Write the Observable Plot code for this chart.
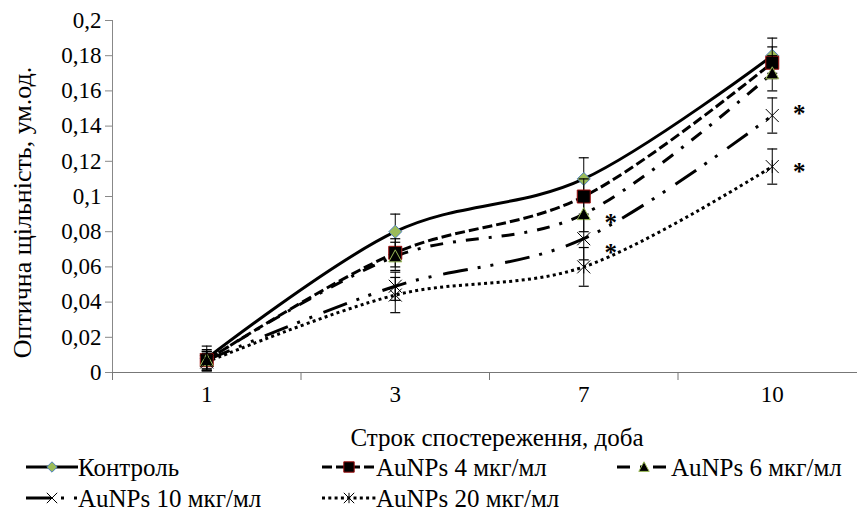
<!DOCTYPE html>
<html><head><meta charset="utf-8">
<script src="https://cdn.jsdelivr.net/npm/d3@7"></script>
<script src="https://cdn.jsdelivr.net/npm/@observablehq/plot@0.6"></script>
<style>
body{margin:0;background:#fff;font-family:"Liberation Serif","Tinos","Times New Roman","DejaVu Serif",serif;}
#chart svg{display:block;}
#legend{position:relative;height:63px;width:857px;}
.item{position:absolute;display:flex;align-items:center;font-size:25px;line-height:25px;white-space:nowrap;}
.item svg{display:block;}
</style></head><body>
<div id="chart"></div>
<div id="legend"></div>
<script>
// ---- data ----
const days = ["1", "3", "7", "10"];
const seriesNames = ["Контроль", "AuNPs 4 мкг/мл", "AuNPs 6 мкг/мл", "AuNPs 10 мкг/мл", "AuNPs 20 мкг/мл"];
const control    = [0.008, 0.080, 0.110, 0.180];
const controlErr = [0.007, 0.010, 0.012, 0.010];
const au4        = [0.007, 0.068, 0.100, 0.176];
const au4Err     = [0.006, 0.008, 0.010, 0.009];
const au6        = [0.007, 0.066, 0.090, 0.170];
const au6Err     = [0.005, 0.008, 0.010, 0.010];
const au10       = [0.007, 0.049, 0.076, 0.146];
const au10Err    = [0.005, 0.008, 0.012, 0.010];
const au20       = [0.006, 0.044, 0.060, 0.117];
const au20Err    = [0.005, 0.010, 0.011, 0.010];
const yTicks = [0, 0.02, 0.04, 0.06, 0.08, 0.1, 0.12, 0.14, 0.16, 0.18, 0.2];
// significance marks: [day, y]
const starDays = ["7", "7", "10", "10"];
const starY    = [0.088, 0.071, 0.150, 0.117];
const xTitle = "Строк спостереження, доба";
const yTitle = "Оптична щільність, ум.од.";

const FONT = "'Liberation Serif', Tinos, 'Times New Roman', 'DejaVu Serif', serif";

// ---- symbols ----
const R = s => Math.sqrt(s / Math.PI);
const symDiamond = {draw(c, s){const r=R(s); c.moveTo(0,-r); c.lineTo(r,0); c.lineTo(0,r); c.lineTo(-r,0); c.closePath();}};
const symSquare = {draw(c, s){const r=R(s); c.rect(-r,-r,2*r,2*r);}};
const symTriangle = {draw(c, s){const r=R(s); c.moveTo(0,-r); c.lineTo(r,r*0.85); c.lineTo(-r,r*0.85); c.closePath();}};
const symTimes = {draw(c, s){const r=R(s); c.moveTo(-r,-r); c.lineTo(r,r); c.moveTo(r,-r); c.lineTo(-r,r);}};
const symStar = {draw(c, s){const r=R(s); c.moveTo(-r,-r); c.lineTo(r,r); c.moveTo(r,-r); c.lineTo(-r,r); c.moveTo(0,-r); c.lineTo(0,r);}};
const symCap = {draw(c, s){const r=R(s); c.moveTo(-r,0); c.lineTo(r,0);}};

const styles = [
  {dash: null,              sym: symDiamond,  fill: "#9BBB59", stroke: "#4F81BD", sw: 1,   r: 6.5},
  {dash: "10,4",            sym: symSquare,   fill: "#000",    stroke: "#A01010", sw: 1,   r: 6.5},
  {dash: "13,10,3,10",      sym: symTriangle, fill: "#000",    stroke: "#9BBB59", sw: 1,   r: 6.5},
  {dash: "25,10,3,10,3,12", sym: symTimes,    fill: "none",    stroke: "#000",    sw: 1,   r: 6.5},
  {dash: "3,3.3",           sym: symStar,     fill: "none",    stroke: "#000",    sw: 1,   r: 6.5}
];

const values = [control, au4, au6, au10, au20];
const errors = [controlErr, au4Err, au6Err, au10Err, au20Err];
const xPos = d => days.indexOf(d) + 0.5;

const rows = [];
values.forEach((vals, s) => vals.forEach((v, i) => rows.push({
  series: s, day: days[i], x: xPos(days[i]), y: v, lo: v - errors[s][i], hi: v + errors[s][i]
})));
const stars = starDays.map((d, i) => ({x: xPos(d), y: starY[i]}));
const fmt = d => String(+d.toFixed(2)).replace(".", ",");

const marks = [];
marks.push(Plot.ruleY([0], {stroke: "#777", strokeWidth: 1}));
marks.push(Plot.ruleX([0], {stroke: "#888", strokeWidth: 1}));
marks.push(Plot.axisY({ticks: yTicks, tickSize: 7, tickPadding: 4, tickFormat: fmt, stroke: "#888", fill: "#000", fontSize: 23, label: null}));
marks.push(Plot.axisX({ticks: d3.range(days.length + 1), tickSize: 8, tickFormat: () => "", stroke: "#777", label: null}));
marks.push(Plot.axisX({ticks: days.map(xPos), tickSize: 0, tickPadding: 13, tickFormat: d => days[Math.floor(d)], fill: "#000", fontSize: 23, label: null}));
marks.push(Plot.text([xTitle], {frameAnchor: "bottom", dy: 65, dx: 12, fontSize: 25, lineAnchor: "middle"}));
marks.push(Plot.text([yTitle], {frameAnchor: "left", textAnchor: "middle", rotate: -90, dx: -90, dy: 16, fontSize: 26, lineAnchor: "middle"}));
styles.forEach((st, s) => {
  marks.push(Plot.line(rows.filter(r => r.series === s), {
    x: "x", y: "y", curve: "cardinal", stroke: "#000", strokeWidth: 3,
    strokeDasharray: st.dash, strokeLinecap: "butt"
  }));
});
styles.forEach((st, s) => {
  const data = rows.filter(r => r.series === s);
  marks.push(Plot.ruleX(data, {x: "x", y1: "lo", y2: "hi", stroke: "#000", strokeWidth: 1}));
  marks.push(Plot.dot(data, {x: "x", y: "lo", symbol: symCap, r: 5, stroke: "#000", strokeWidth: 1.2}));
  marks.push(Plot.dot(data, {x: "x", y: "hi", symbol: symCap, r: 5, stroke: "#000", strokeWidth: 1.2}));
  marks.push(Plot.dot(data, {x: "x", y: "y", symbol: st.sym, r: st.r, fill: st.fill, stroke: st.stroke, strokeWidth: st.sw}));
});
marks.push(Plot.text(stars, {x: "x", y: "y", text: () => "*", dx: 27, dy: 5, fontSize: 25, fontWeight: "bold", lineAnchor: "middle"}));

const chart = Plot.plot({
  width: 857, height: 452,
  marginLeft: 112, marginRight: 0, marginTop: 20, marginBottom: 80,
  style: {fontFamily: FONT, fontSize: "23px", color: "#000", background: "#fff", overflow: "visible"},
  x: {type: "linear", domain: [0, days.length], range: [112, 866]},
  y: {domain: [0, 0.2]},
  marks
});
document.getElementById("chart").appendChild(chart);

// ---- legend (HTML) ----
const legendPos = [
  {left: 26, top: 2, w: 52}, {left: 322, top: 2, w: 54}, {left: 617, top: 2, w: 54},
  {left: 26, top: 33, w: 52}, {left: 322, top: 33, w: 54}
];
const legend = document.getElementById("legend");
seriesNames.forEach((name, s) => {
  const st = styles[s], p = legendPos[s];
  const div = document.createElement("div");
  div.className = "item";
  div.style.left = p.left + "px";
  div.style.top = p.top + "px";
  const sv = d3.create("svg").attr("width", p.w).attr("height", 26);
  sv.append("line").attr("x1", 0).attr("x2", p.w).attr("y1", 13).attr("y2", 13)
    .attr("stroke", "#000").attr("stroke-width", 3).attr("stroke-dasharray", st.dash);
  const r = st.r * 0.8;
  const path = d3.path();
  st.sym.draw(path, Math.PI * r * r);
  sv.append("path").attr("d", path.toString()).attr("transform", `translate(${p.w/2},13)`)
    .attr("fill", st.fill === "none" ? "#fff" : st.fill).attr("stroke", st.stroke).attr("stroke-width", st.sw);
  div.appendChild(sv.node());
  const t = document.createElement("span");
  t.textContent = name;
  div.appendChild(t);
  legend.appendChild(div);
});
</script>
</body></html>
